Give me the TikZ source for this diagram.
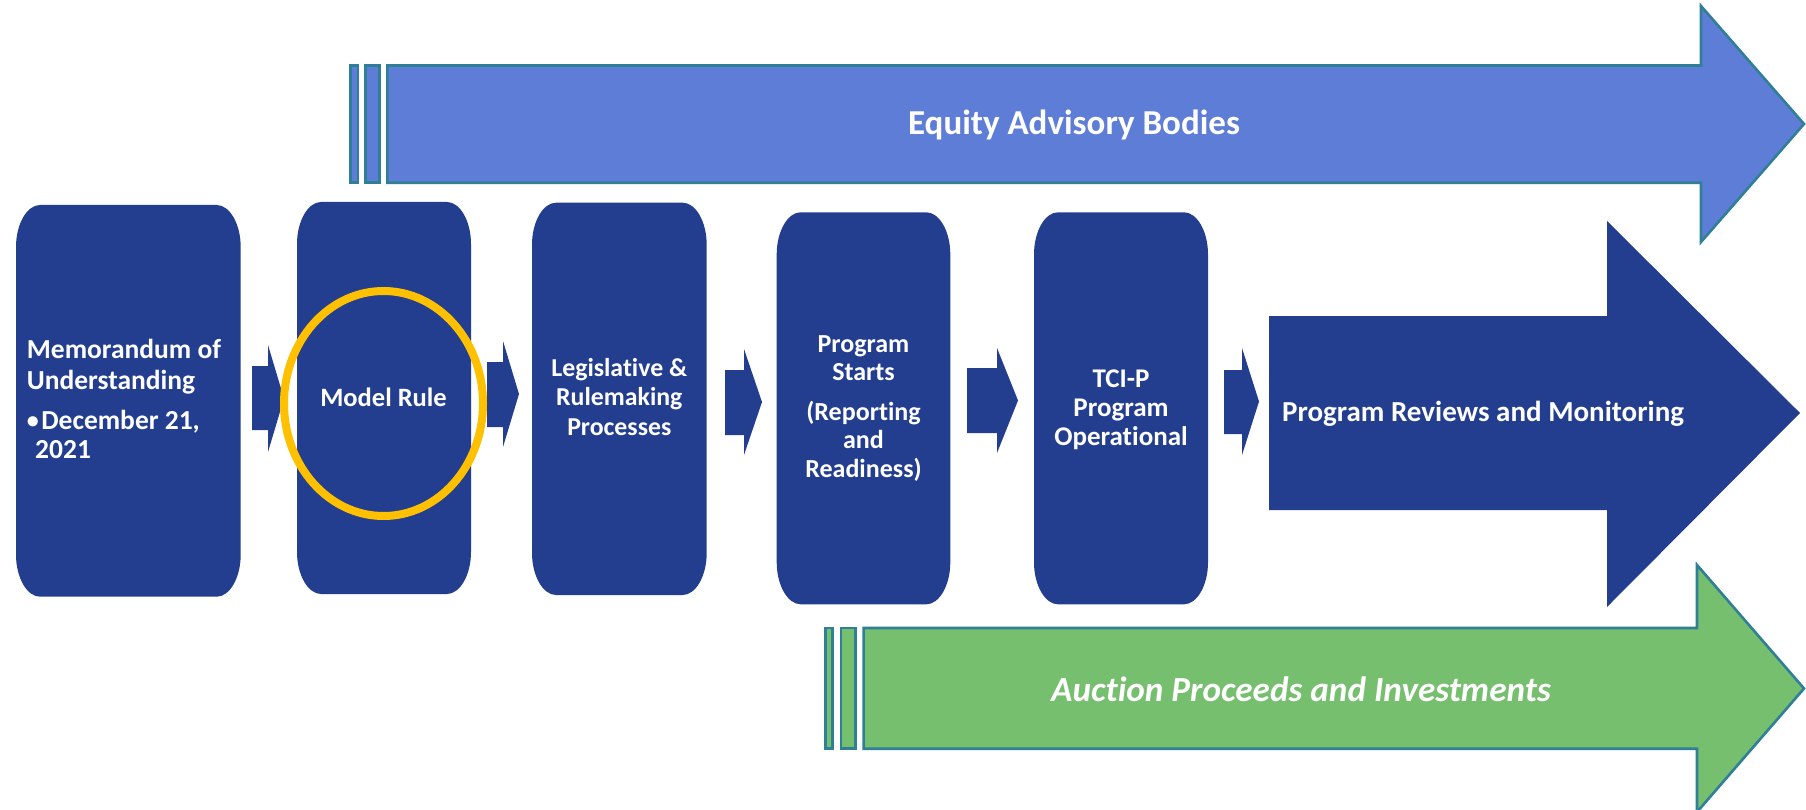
\documentclass[tikz,border=0pt]{standalone}
\usepackage{fontspec}
\setmainfont{Carlito}[Ligatures=NoCommon]
\definecolor{navy}{HTML}{233E8F}
\definecolor{skyband}{HTML}{5E7DD7}
\definecolor{tealedge}{HTML}{2F7F97}
\definecolor{leafgreen}{HTML}{76BF6E}
\definecolor{gold}{HTML}{FFC000}
% stage box with elliptical corners: x1,y1,x2,y2 (y grows downwards)
\newcommand\stageshape[4]{%
  \fill[navy] (#1,#2+42) .. controls (#1,#2+19) and (#1+11,#2) .. (#1+24,#2)
    -- (#3-24,#2) .. controls (#3-11,#2) and (#3,#2+19) .. (#3,#2+42)
    -- (#3,#4-42) .. controls (#3,#4-19) and (#3-11,#4) .. (#3-24,#4)
    -- (#1+24,#4) .. controls (#1+11,#4) and (#1,#4-19) .. (#1,#4-42) -- cycle;}
% small block arrow: shaft x1,x2, shaft y1,y2, head y1,y2, tip x
\newcommand\steparrow[7]{%
  \fill[navy] (#1,#3) -- (#2,#3) -- (#2,#5) -- (#7,{(#5+#6)/2}) -- (#2,#6)
    -- (#2,#4) -- (#1,#4) -- cycle;}
\begin{document}
\begin{tikzpicture}[x=1pt,y=-1pt,
  boxtext/.style={text=white,font=\bfseries\fontsize{25.8}{29.3}\selectfont,
    align=center,inner sep=0pt,anchor=base},
  bandtext/.style={text=white,inner sep=0pt,anchor=base},
  band/.style={line width=2.6pt,draw=tealedge,line join=miter}]
\useasboundingbox[fill=white] (0,0) rectangle (1806,810);

% equity advisory band
\fill[skyband,band] (350.6,65.5) rectangle (358,182.8);
\fill[skyband,band] (365.6,65.5) rectangle (379.7,182.8);
\fill[skyband,band] (387.3,65.5) -- (1701,65.5) -- (1701,6) -- (1804,124)
  -- (1701,242) -- (1701,182.8) -- (387.3,182.8) -- cycle;
\node[bandtext,font=\bfseries\fontsize{35}{40}\selectfont] (equity) at (1074,134.3) {Equity Advisory Bodies};

% auction proceeds band
\fill[leafgreen,band] (825.6,628) rectangle (832.4,748.7);
\fill[leafgreen,band] (841,628) rectangle (855.4,748.7);
\fill[leafgreen,band] (863.6,628) -- (1697,628) -- (1697,565) -- (1804,688.5)
  -- (1697,812) -- (1697,748.7) -- (863.6,748.7) -- cycle;
\node[bandtext,font=\bfseries\itshape\fontsize{35.2}{40}\selectfont] (auction) at (1301,701.7) {Auction Proceeds and Investments};

% reviews arrow
\fill[navy] (1269,316) -- (1607,316) -- (1607,221) -- (1800,413) -- (1607,607)
  -- (1607,510) -- (1269,510) -- cycle;
\node[bandtext,anchor=base west,font=\bfseries\fontsize{29}{34}\selectfont] (reviews) at (1282,421.7) {Program Reviews and Monitoring};

% stage boxes
\stageshape{16}{205}{240.7}{596.7}
\stageshape{297}{202}{471}{594}
\stageshape{532}{202.7}{706.7}{595}
\stageshape{776.7}{212.3}{950.3}{604.3}
\stageshape{1034}{212.3}{1208}{604.3}

% arrows between the stages
\steparrow{252}{268}{366}{430}{345}{452}{284}
\steparrow{487}{503}{362}{427}{341}{447}{519}
\steparrow{725}{744}{370}{435}{349}{455}{762}
\steparrow{967}{997}{368}{433}{348}{453}{1018}
\steparrow{1224}{1242}{370}{434}{348}{455}{1259}

% highlight ring
\draw[gold,line width=8pt] (383.5,403.5) ellipse[x radius=99.5,y radius=112.5];

% stage labels (anchored on the baseline of their last line)
\node[boxtext,align=left,anchor=base west,font=\bfseries\fontsize{27.5}{31}\selectfont] (memo) at (26.7,458.3)
  {Memorandum of\\Understanding\\[9pt]\makebox[14.5pt][l]{\raisebox{1pt}{\fontsize{24}{24}\selectfont•}}December 21,\\[-2pt]\hspace*{8.3pt}2021};
\node[boxtext,font=\bfseries\fontsize{26.5}{31}\selectfont] (model) at (383.5,406) {Model Rule};
\node[boxtext] (legis) at (619.3,435) {Legislative \&\\Rulemaking\\Processes};
\node[boxtext,font=\bfseries\fontsize{26}{28.5}\selectfont] (starts) at (863.5,477.3)
  {Program\\Starts\\[11pt](Reporting\\and\\Readiness)};
\node[boxtext,font=\bfseries\fontsize{27}{29}\selectfont] (tcip) at (1121,445) {TCI-P\\Program\\Operational};
\end{tikzpicture}
\end{document}
